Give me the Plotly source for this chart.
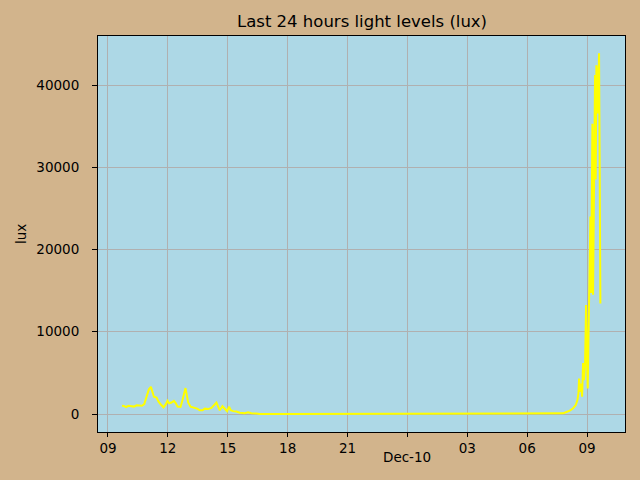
import plotly.graph_objects as go

times = [
    "2023-12-09 09:42", "2023-12-09 09:48", "2023-12-09 09:54", "2023-12-09 10:02", "2023-12-09 10:11",
    "2023-12-09 10:18", "2023-12-09 10:26", "2023-12-09 10:34", "2023-12-09 10:42", "2023-12-09 10:49",
    "2023-12-09 10:56", "2023-12-09 11:03", "2023-12-09 11:09", "2023-12-09 11:13", "2023-12-09 11:18",
    "2023-12-09 11:26", "2023-12-09 11:32", "2023-12-09 11:39", "2023-12-09 11:47", "2023-12-09 11:54",
    "2023-12-09 11:59", "2023-12-09 12:04", "2023-12-09 12:11", "2023-12-09 12:18", "2023-12-09 12:24",
    "2023-12-09 12:29", "2023-12-09 12:38", "2023-12-09 12:44", "2023-12-09 12:49", "2023-12-09 12:53",
    "2023-12-09 12:57", "2023-12-09 13:01", "2023-12-09 13:08", "2023-12-09 13:18", "2023-12-09 13:28",
    "2023-12-09 13:36", "2023-12-09 13:44", "2023-12-09 13:51", "2023-12-09 14:01", "2023-12-09 14:11",
    "2023-12-09 14:18", "2023-12-09 14:26", "2023-12-09 14:31", "2023-12-09 14:36", "2023-12-09 14:44",
    "2023-12-09 14:51", "2023-12-09 14:58", "2023-12-09 15:04", "2023-12-09 15:09", "2023-12-09 15:16",
    "2023-12-09 15:26", "2023-12-09 15:36", "2023-12-09 15:51", "2023-12-09 16:01", "2023-12-09 16:11",
    "2023-12-09 16:26", "2023-12-09 16:36", "2023-12-09 18:00", "2023-12-09 21:00", "2023-12-10 00:00",
    "2023-12-10 03:00", "2023-12-10 06:00", "2023-12-10 07:38", "2023-12-10 07:48", "2023-12-10 07:58",
    "2023-12-10 08:08", "2023-12-10 08:18", "2023-12-10 08:26", "2023-12-10 08:31", "2023-12-10 08:34",
    "2023-12-10 08:36", "2023-12-10 08:39", "2023-12-10 08:42", "2023-12-10 08:45", "2023-12-10 08:48",
    "2023-12-10 08:51", "2023-12-10 08:54", "2023-12-10 08:57", "2023-12-10 08:59", "2023-12-10 09:02",
    "2023-12-10 09:04", "2023-12-10 09:06", "2023-12-10 09:08", "2023-12-10 09:10", "2023-12-10 09:12",
    "2023-12-10 09:14", "2023-12-10 09:16", "2023-12-10 09:18", "2023-12-10 09:20", "2023-12-10 09:22",
    "2023-12-10 09:24", "2023-12-10 09:26", "2023-12-10 09:28", "2023-12-10 09:30", "2023-12-10 09:32",
    "2023-12-10 09:34", "2023-12-10 09:36", "2023-12-10 09:38", "2023-12-10 09:40", "2023-12-10 09:42",
]
lux = [
    1010, 985, 850, 1000, 950,
    900, 1050, 1000, 1000, 1200,
    2100, 3000, 3300, 2700, 2100,
    2000, 1500, 1150, 800, 1200,
    1600, 1300, 1400, 1600, 1300,
    900, 850, 1700, 2500, 3150,
    2300, 1400, 900, 800, 650,
    450, 450, 650, 600, 750,
    1050, 1400, 900, 450, 950,
    600, 350, 900, 450, 350,
    300, 150, 100, 200, 100,
    50, 0, 0, 0, 0,
    0, 0, 0, 80, 240,
    400, 690, 1100, 1700, 2500,
    4300, 2700, 3700, 2100, 6200,
    4100, 6200, 13250, 7800, 3100,
    8600, 15100, 14300, 24000, 14700,
    29700, 35300, 14500, 24000, 40200,
    41200, 28500, 42400, 41400, 36550,
    42600, 43850, 29700, 13450,
]

xtick_vals = ["2023-12-09 09:00", "2023-12-09 12:00", "2023-12-09 15:00", "2023-12-09 18:00",
              "2023-12-09 21:00", "2023-12-10 00:00", "2023-12-10 03:00", "2023-12-10 06:00",
              "2023-12-10 09:00"]
xtick_text = ["09", "12", "15", "18", "21", "", "03", "06", "09"]
ytick_vals = [0, 10000, 20000, 30000, 40000]

font = "DejaVu Sans"

fig = go.Figure()
fig.add_trace(go.Scatter(x=times, y=lux, mode="lines",
                         line=dict(color="yellow", width=2), showlegend=False,
                         hoverinfo="skip"))

fig.update_layout(
    width=640, height=480,
    paper_bgcolor="#d2b48c", plot_bgcolor="#add8e6",
    margin=dict(l=98, r=15, t=36, b=48),
    font=dict(family=font, size=13.5, color="black"),
    xaxis=dict(range=["2023-12-09 08:30", "2023-12-10 10:54"],
               tickvals=xtick_vals, ticktext=xtick_text,
               showgrid=True, gridcolor="#b0b0b0", gridwidth=1,
               showline=True, linecolor="black", linewidth=1, mirror=True,
               ticks="outside", ticklen=4, tickcolor="black", zeroline=False),
    yaxis=dict(range=[-2188, 45957], tickvals=ytick_vals, tickformat="d",
               showgrid=True, gridcolor="#b0b0b0", gridwidth=1,
               showline=True, linecolor="black", linewidth=1, mirror=True,
               ticks="outside", ticklen=5, tickcolor="black", zeroline=False,
               ticklabelstandoff=10),
    annotations=[
        dict(text="Last 24 hours light levels (lux)", xref="paper", yref="paper",
             x=0.5, y=1, yshift=15, yanchor="middle", showarrow=False,
             font=dict(size=16.5, family=font)),
        dict(text="Dec-10", xref="x", yref="paper", x="2023-12-10 00:00", y=0,
             yshift=-25, yanchor="middle", showarrow=False, font=dict(size=13.5, family=font)),
        dict(text="lux", xref="paper", yref="paper", x=(21 - 98) / 527, y=0.5,
             textangle=-90, xanchor="center", yanchor="middle", showarrow=False,
             font=dict(size=13.5, family=font)),
    ],
)

fig.write_html("out.html", config={"displayModeBar": False},
               post_script="document.body.style.margin='0';")
